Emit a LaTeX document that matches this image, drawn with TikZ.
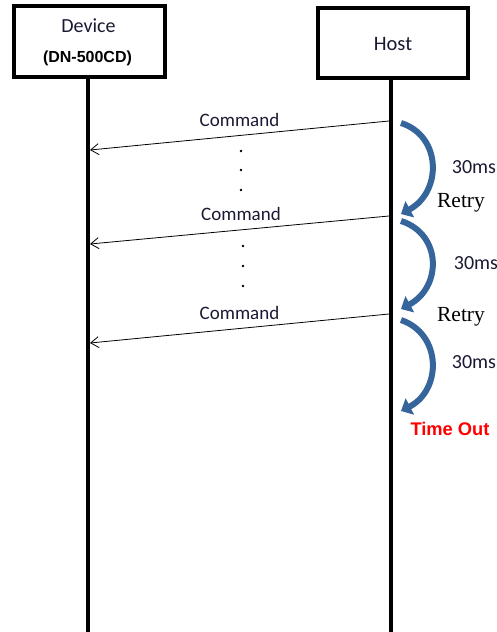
\documentclass[tikz,border=0pt]{standalone}
\usepackage{fontspec}
\setmainfont{Carlito}
\newfontfamily\arialfont{Liberation Sans}
\newfontfamily\serifont{Liberation Serif}
\usetikzlibrary{arrows.meta}
\definecolor{curveblue}{RGB}{54,101,156}
\definecolor{toutred}{RGB}{255,0,0}
\definecolor{textdark}{RGB}{25,25,50}
\tikzset{
  x=1pt,y=-1pt,
  boxnode/.style={draw,line width=3.5pt,inner sep=0pt},
  lifeline/.style={line width=4pt},
  msg/.style={line width=0.8pt,-{Straight Barb[length=8pt,width=11pt]}},
  txt/.style={anchor=base,inner sep=0pt,text=textdark},
  cmdlabel/.style={txt,font=\fontsize{19}{22}\selectfont},
  dotnode/.style={circle,fill=black,inner sep=0pt,minimum size=2.6pt},
  curvearrow/.style={curveblue,line width=6pt,-{Triangle[length=10pt,width=18pt]}},
  mslabel/.style={txt,font=\fontsize{20}{22}\selectfont},
  retrylabel/.style={txt,text=black,font=\serifont\fontsize{21.5}{24}\selectfont},
}
\begin{document}
\begin{tikzpicture}
\useasboundingbox (0,0) rectangle (497,632);
\node[boxnode,minimum width=151pt,minimum height=71pt] (dev) at (89.5,41.5) {};
\node[boxnode,minimum width=150pt,minimum height=70pt] (host) at (393,43) {};
\node[txt,font=\fontsize{20}{22}\selectfont] (devtxt) at (88.5,32) {Device};
\node[txt,text=black,font=\arialfont\bfseries\fontsize{16}{18}\selectfont] (devsub) at (87.5,62) {(DN-500CD)};
\node[txt,font=\fontsize{20.5}{22}\selectfont] (hosttxt) at (393,50) {Host};
\coordinate (devend) at (88,632);
\coordinate (hostend) at (391,632);
\draw[lifeline] (dev.south -| devend) -- (devend);
\draw[lifeline] (host.south -| hostend) -- (hostend);
% messages
\coordinate (h1) at (389,121); \coordinate (d1) at (90,150);
\coordinate (h2) at (389,216); \coordinate (d2) at (90,244);
\coordinate (h3) at (389,314); \coordinate (d3) at (90,343);
\draw[msg] (h1) -- (d1);
\draw[msg] (h2) -- (d2);
\draw[msg] (h3) -- (d3);
\node[cmdlabel] (c1) at (239.5,126) {Command};
\node[cmdlabel] (c2) at (241,220) {Command};
\node[cmdlabel] (c3) at (239.5,319) {Command};
\node[dotnode] (a1) at (241,151) {};
\node[dotnode] (a2) at (241,170) {};
\node[dotnode] (a3) at (241,190) {};
\node[dotnode] (b1) at (243,246) {};
\node[dotnode] (b2) at (243,266) {};
\node[dotnode] (b3) at (243,286) {};
% curved arrows
\coordinate (s1) at (401,123); \coordinate (e1) at (401,214);
\coordinate (s2) at (401,221); \coordinate (e2) at (401,309);
\coordinate (s3) at (401,320); \coordinate (e3) at (401,411);
\draw[curvearrow] (s1) .. controls (442,136) and (442,192) .. (e1);
\draw[curvearrow] (s2) .. controls (442,234) and (442,287) .. (e2);
\draw[curvearrow] (s3) .. controls (442,334) and (442,390) .. (e3);
\node[mslabel] (m1) at (474,173) {30ms};
\node[mslabel] (m2) at (476,269) {30ms};
\node[mslabel] (m3) at (474,368) {30ms};
\node[retrylabel] (r1) at (461,207) {Retry};
\node[retrylabel] (r2) at (461,321) {Retry};
\node[txt,font=\arialfont\bfseries\fontsize{18.3}{20}\selectfont,text=toutred] (to) at (450,435) {Time Out};
\end{tikzpicture}
\end{document}
